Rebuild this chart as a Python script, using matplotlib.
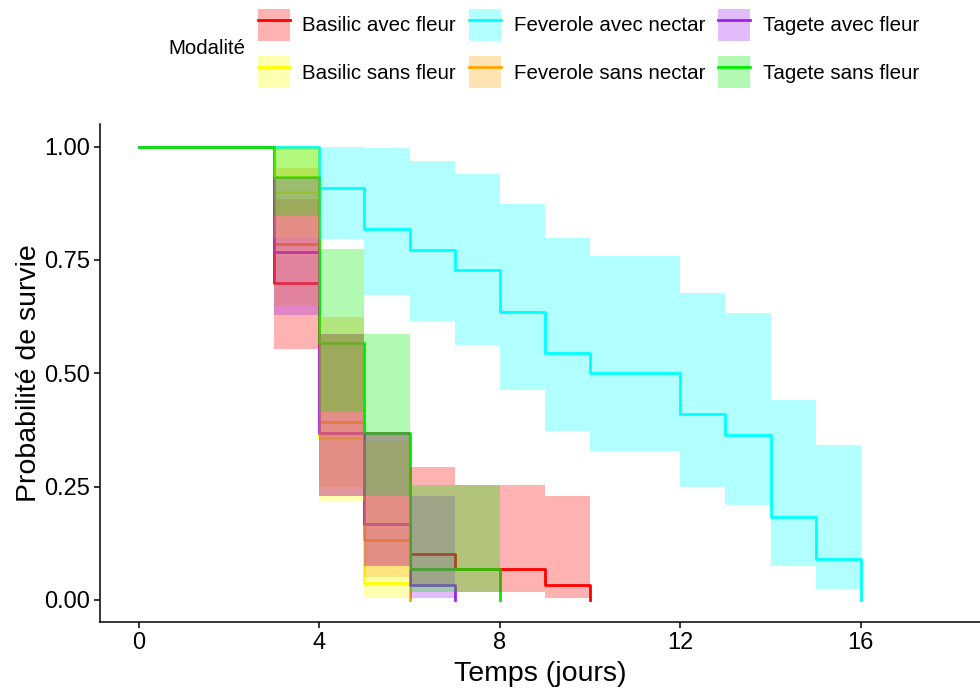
import matplotlib
matplotlib.use("Agg")
from matplotlib import pyplot as plt
from matplotlib.patches import Patch
from matplotlib.lines import Line2D

plt.rcParams['font.family'] = ['Liberation Sans', 'DejaVu Sans']

# survival curves (times where the step changes)
groups = ["Basilic avec fleur", "Basilic sans fleur", "Feverole avec nectar",
          "Feverole sans nectar", "Tagete avec fleur", "Tagete sans fleur"]
colors = ["#FF0000", "#FFFF00", "#00FFFF", "#FFA500", "#A020F0", "#00EE00"]

basilic_fleur_t = [0, 3, 4, 5, 6, 7, 9, 10]
basilic_fleur_s = [1, 0.700, 0.367, 0.167, 0.100, 0.067, 0.033, 0]
basilic_fleur_lo = [1, 0.554, 0.229, 0.075, 0.034, 0.018, 0.005]
basilic_fleur_hi = [1, 0.885, 0.587, 0.371, 0.293, 0.254, 0.229]

basilic_sans_t = [0, 3, 4, 5, 6]
basilic_sans_s = [1, 0.900, 0.357, 0.036, 0]
basilic_sans_lo = [1, 0.799, 0.217, 0.005]
basilic_sans_hi = [1, 1.000, 0.585, 0.230]

feverole_nectar_t = [0, 4, 5, 6, 7, 8, 9, 10, 12, 13, 14, 15, 16]
feverole_nectar_s = [1, 0.909, 0.818, 0.773, 0.727, 0.636, 0.545, 0.500,
                     0.409, 0.364, 0.182, 0.091, 0]
feverole_nectar_lo = [1, 0.797, 0.672, 0.616, 0.563, 0.464, 0.372, 0.329,
                      0.248, 0.209, 0.075, 0.024]
feverole_nectar_hi = [1, 1.000, 0.996, 0.969, 0.939, 0.873, 0.799, 0.759,
                      0.676, 0.632, 0.441, 0.341]

feverole_sans_t = [0, 3, 4, 5, 6]
feverole_sans_s = [1, 0.786, 0.393, 0.131, 0]
feverole_sans_lo = [1, 0.648, 0.248, 0.050]
feverole_sans_hi = [1, 0.954, 0.623, 0.350]

tagete_fleur_t = [0, 3, 4, 5, 6, 7]
tagete_fleur_s = [1, 0.767, 0.367, 0.167, 0.033, 0]
tagete_fleur_lo = [1, 0.629, 0.229, 0.075, 0.005]
tagete_fleur_hi = [1, 0.934, 0.587, 0.371, 0.229]

tagete_sans_t = [0, 3, 4, 5, 6, 8]
tagete_sans_s = [1, 0.933, 0.567, 0.367, 0.067, 0]
tagete_sans_lo = [1, 0.848, 0.414, 0.229, 0.018]
tagete_sans_hi = [1, 1.000, 0.775, 0.587, 0.254]

curves = [
    (basilic_fleur_t, basilic_fleur_s, basilic_fleur_lo, basilic_fleur_hi),
    (basilic_sans_t, basilic_sans_s, basilic_sans_lo, basilic_sans_hi),
    (feverole_nectar_t, feverole_nectar_s, feverole_nectar_lo, feverole_nectar_hi),
    (feverole_sans_t, feverole_sans_s, feverole_sans_lo, feverole_sans_hi),
    (tagete_fleur_t, tagete_fleur_s, tagete_fleur_lo, tagete_fleur_hi),
    (tagete_sans_t, tagete_sans_s, tagete_sans_lo, tagete_sans_hi),
]

fig = plt.figure(figsize=(9.8, 6.91), dpi=100)
ax = fig.add_axes([100 / 980, 69 / 691, 880 / 980, 498 / 691])

# lines first, ribbons on top (as ggplot layers do)
for (t, s, lo, hi), c in zip(curves, colors):
    ax.step(t, s, where='post', color=c, lw=2.0, zorder=2)
for (t, s, lo, hi), c in zip(curves, colors):
    lo_full = list(lo) + [lo[-1]]
    hi_full = list(hi) + [hi[-1]]
    ax.fill_between(t, lo_full, hi_full, step='post', color=c, alpha=0.3,
                    lw=0, zorder=3)

ax.set_xlim(-0.86, 18.64)
ax.set_ylim(-0.049, 1.05)
ax.set_xticks([0, 4, 8, 12, 16])
ax.set_yticks([0, 0.25, 0.5, 0.75, 1.0])
ax.set_yticklabels(["0.00", "0.25", "0.50", "0.75", "1.00"])
ax.tick_params(labelsize=17, length=4, width=1.1, pad=3, colors='black')
for side in ['top', 'right']:
    ax.spines[side].set_visible(False)
for side in ['left', 'bottom']:
    ax.spines[side].set_linewidth(1.1)
ax.set_xlabel("Temps (jours)", fontsize=20.5, labelpad=5)
ax.set_ylabel("Probabilité de survie", fontsize=20.5, labelpad=2)

handles = [(Patch(facecolor=c, alpha=0.3, edgecolor='none'),
            Line2D([], [], color=c, lw=2.0)) for c in colors]
fig.legend(handles, groups, ncol=3, loc='upper left',
           bbox_to_anchor=(258 / 980, 1 - 9 / 691), frameon=False,
           fontsize=14.8, handlelength=1.55, handleheight=2.0,
           handletextpad=0.6, columnspacing=0.65, labelspacing=0.75,
           borderpad=0, borderaxespad=0)
fig.text(168 / 980, 1 - 48 / 691, "Modalité", ha='left', va='center',
         fontsize=14.7)

fig.savefig("out.png", dpi=100)
